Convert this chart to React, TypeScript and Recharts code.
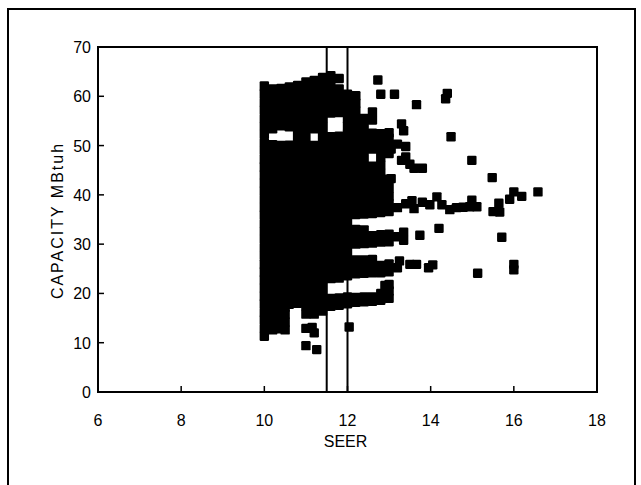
import React from "react";
import {
  ScatterChart,
  Scatter,
  XAxis,
  YAxis,
  ReferenceLine,
  ReferenceArea,
  Label,
} from "recharts";

const xTicks = [6, 8, 10, 12, 14, 16, 18];
const yTicks = [0, 10, 20, 30, 40, 50, 60, 70];
const limitLines = [11.5, 12];

// capacities (MBtuh) read at each SEER rating inside the dense block
const cap10_0 = [11.3, 12.9, 14.6, 16.2, 17.9, 19.5, 21.1, 22.8, 24.4, 26.0, 27.7, 29.3, 31.0, 32.6, 34.2, 35.9, 37.5, 39.1, 40.8, 42.4, 44.1, 45.7, 47.3, 49.0, 50.6, 52.3, 53.9, 55.5, 57.2, 58.8, 60.5, 62.1];
const cap10_2 = [12.6, 14.2, 15.9, 17.5, 19.1, 20.8, 22.4, 24.0, 25.7, 27.3, 28.9, 30.6, 32.2, 33.8, 35.5, 37.1, 38.7, 40.4, 42.0, 43.6, 45.3, 46.9, 48.5, 50.2, 53.4, 55.0, 56.6, 58.3, 59.9, 61.5];
const cap10_4 = [12.8, 14.4, 16.0, 17.7, 19.3, 20.9, 22.6, 24.2, 25.8, 27.5, 29.1, 30.7, 32.4, 34.0, 35.6, 37.3, 38.9, 40.5, 42.2, 43.8, 45.4, 47.1, 48.7, 50.0, 54.0, 55.5, 57.0, 58.5, 60.0, 61.6];
const cap10_5 = [12.6, 14.2, 15.8, 17.2];
const cap10_6 = [17.8, 19.4, 21.0, 22.7, 24.3, 25.9, 27.6, 29.2, 30.8, 32.5, 34.1, 35.7, 37.4, 39.0, 40.6, 42.3, 43.9, 45.5, 47.2, 48.8, 50.1, 53.8, 55.4, 57.0, 58.6, 60.3, 61.9];
const cap10_8 = [18.0, 19.6, 21.3, 22.9, 24.5, 26.2, 27.8, 29.4, 31.1, 32.7, 34.3, 36.0, 37.6, 39.2, 40.9, 42.5, 44.1, 45.8, 47.4, 49.0, 50.7, 52.3, 53.9, 55.6, 57.2, 58.8, 60.5, 62.2];
const cap11_0 = [15.8, 17.4, 19.1, 20.7, 22.3, 24.0, 25.6, 27.2, 28.9, 30.5, 32.1, 33.8, 35.4, 37.0, 38.7, 40.3, 41.9, 43.6, 45.2, 46.8, 48.5, 50.1, 51.7, 53.4, 55.0, 56.6, 58.3, 59.9, 61.5, 62.9];
const cap11_2 = [15.8, 17.5, 19.1, 20.7, 22.4, 24.0, 25.6, 27.3, 28.9, 30.5, 32.2, 33.8, 35.4, 37.1, 38.7, 40.3, 42.0, 43.6, 45.2, 46.9, 48.5, 50.0, 53.4, 55.0, 56.6, 58.3, 60.0, 61.7, 63.2];
const cap11_4 = [16.4, 18.0, 19.7, 21.3, 22.9, 24.6, 26.2, 27.8, 29.5, 31.1, 32.7, 34.4, 36.0, 37.6, 39.3, 40.9, 42.5, 44.2, 45.8, 47.4, 49.1, 50.7, 52.3, 54.0, 55.6, 57.2, 58.9, 60.5, 62.1, 63.8];
const cap11_6 = [17.4, 19.0, 23.0, 24.6, 26.2, 27.8, 29.4, 31.0, 32.6, 34.2, 35.8, 37.4, 39.0, 40.6, 42.2, 43.8, 45.4, 47.0, 48.6, 50.2, 51.8, 56.6, 58.2, 59.8, 61.4, 63.0, 64.2];
const cap11_8 = [17.6, 19.1, 23.1, 24.7, 26.3, 27.9, 29.5, 31.1, 32.7, 34.3, 35.9, 37.5, 39.1, 40.7, 42.3, 43.9, 45.5, 47.1, 48.7, 50.3, 51.9, 56.7, 58.3, 59.9, 61.5, 63.6];
const cap12_0 = [17.9, 19.3, 23.6, 25.2, 26.8, 28.4, 30.0, 31.6, 33.2, 34.8, 36.4, 38.0, 39.6, 41.2, 42.8, 44.4, 46.0, 47.6, 49.2, 50.8, 52.4, 54.0, 55.6, 57.2, 58.8, 60.4];
const cap12_2 = [18.2, 19.2, 24.0, 25.5, 26.8, 30.0, 31.6, 33.0, 36.0, 37.6, 39.2, 40.8, 42.4, 44.1, 45.7, 47.3, 48.9, 50.6, 52.2, 53.8, 55.4, 57.0, 58.6, 60.1];
const cap12_4 = [18.3, 19.3, 24.1, 25.6, 26.8, 30.1, 31.6, 32.9, 36.1, 37.7, 39.3, 40.9, 42.5, 44.2, 45.8, 47.4, 49.1, 50.7, 52.3, 53.9, 55.5];
const cap12_6 = [18.4, 19.3, 24.2, 25.7, 26.9, 30.2, 31.7, 36.2, 37.8, 39.4, 41.0, 42.6, 44.2, 45.8, 49.3, 50.9, 52.5, 55.2, 56.8];
const cap12_8 = [18.6, 20.0, 24.2, 25.7, 30.4, 31.9, 36.4, 38.0, 39.6, 41.2, 42.8, 44.4, 46.0, 47.6, 49.2, 50.8, 52.4];
const cap13_0 = [19.0, 20.5, 21.8, 24.4, 26.0, 30.5, 32.0, 36.6, 38.2, 39.8, 41.5, 43.2, 48.4, 49.9, 51.5, 52.6];

const denseColumns: [number, number[]][] = [
  [10.0, cap10_0],
  [10.2, cap10_2],
  [10.4, cap10_4],
  [10.5, cap10_5],
  [10.6, cap10_6],
  [10.8, cap10_8],
  [11.0, cap11_0],
  [11.2, cap11_2],
  [11.4, cap11_4],
  [11.6, cap11_6],
  [11.8, cap11_8],
  [12.0, cap12_0],
  [12.2, cap12_2],
  [12.4, cap12_4],
  [12.6, cap12_6],
  [12.8, cap12_8],
  [13.0, cap13_0],
];

// units outside the dense block: [SEER, capacity]
const scattered: [number, number][] = [
  [11.0, 9.4], [11.26, 8.6], [11.0, 12.9], [11.2, 12.0], [11.15, 13.1], [12.04, 13.2],
  [12.9, 21.6], [13.2, 25.2], [13.25, 26.6], [13.5, 25.9], [13.66, 25.9], [13.95, 25.2],
  [14.05, 25.8], [13.2, 31.5], [13.35, 32.4], [13.35, 30.8], [13.74, 31.8], [14.2, 33.2],
  [13.2, 37.4], [13.4, 38.2], [13.55, 38.8], [13.6, 37.2], [13.8, 38.5], [13.98, 38.0],
  [14.15, 39.6], [14.27, 38.0], [14.46, 37.0], [14.62, 37.4], [14.78, 37.5], [14.94, 37.6],
  [14.99, 38.9], [15.11, 37.6], [13.05, 43.3], [13.6, 45.4], [13.8, 45.4], [13.5, 46.2],
  [13.3, 47.0], [13.4, 47.7], [13.4, 49.8], [13.2, 50.3], [13.05, 49.3], [13.35, 53.0],
  [13.3, 54.4], [12.73, 63.3], [12.8, 60.4], [13.13, 60.4], [13.66, 58.3], [14.4, 60.6],
  [14.36, 59.5], [14.49, 51.8], [14.99, 47.0], [15.48, 43.5], [16.0, 40.6], [16.19, 39.7],
  [15.9, 39.1], [16.58, 40.6], [15.64, 38.3], [15.5, 36.6], [15.66, 36.5], [15.71, 31.4],
  [16.0, 25.9], [16.0, 24.8], [15.13, 24.1],
];

const points = [
  ...denseColumns.flatMap(([seer, caps]) => caps.map((cap) => ({ seer, cap }))),
  ...scattered.map(([seer, cap]) => ({ seer, cap })),
];

const font = "'Liberation Sans', Arial, Helvetica, sans-serif";

const Square = (props: any) => {
  const { cx, cy } = props;
  if (cx == null || cy == null) return null;
  return <rect x={cx - 4.7} y={cy - 4.7} width={9.4} height={9.4} rx={1.2} fill="#000" />;
};

const XTick = (props: any) => {
  const { x, y, payload } = props;
  const v = payload.value;
  return (
    <g>
      {v > 6 && v < 18 && (
        <line x1={x} y1={y} x2={x} y2={y - 6} stroke="#000" strokeWidth={1.5} />
      )}
      <text x={x} y={y + 34} textAnchor="middle" fontSize={16} fontFamily={font} fill="#000">
        {v}
      </text>
    </g>
  );
};

const YTick = (props: any) => {
  const { x, y, payload } = props;
  const v = payload.value;
  return (
    <g>
      {v > 0 && v < 70 && (
        <line x1={x} y1={y} x2={x + 6} y2={y} stroke="#000" strokeWidth={1.5} />
      )}
      <text x={x - 7} y={y + 6} textAnchor="end" fontSize={16} fontFamily={font} fill="#000">
        {v}
      </text>
    </g>
  );
};

const App = () => {
  return (
    <div style={{ position: "absolute", left: 0, top: 0, width: 641, height: 485, overflow: "hidden", background: "#fff" }}>
      <div
        style={{
          position: "absolute",
          left: 7,
          top: 8,
          width: 625,
          height: 520,
          border: "2px solid #000",
        }}
      />
      <div style={{ position: "absolute", left: 0, top: 0 }}>
        <ScatterChart
          width={641}
          height={485}
          margin={{ top: 47, right: 44, bottom: 43, left: 38 }}
        >
          <XAxis
            type="number"
            dataKey="seer"
            domain={[6, 18]}
            ticks={xTicks}
            interval={0}
            height={50}
            tickSize={0}
            tickMargin={0}
            tickLine={false}
            axisLine={{ stroke: "#000", strokeWidth: 2 }}
            tick={<XTick />}
          >
            <Label
              content={(p: any) => {
                const vb = p.viewBox;
                return (
                  <text
                    x={vb.x + vb.width / 2 - 2}
                    y={vb.y + 55}
                    textAnchor="middle"
                    fontSize={16}
                    fontFamily={font}
                    fill="#000"
                  >
                    SEER
                  </text>
                );
              }}
            />
          </XAxis>
          <YAxis
            type="number"
            dataKey="cap"
            domain={[0, 70]}
            ticks={yTicks}
            interval={0}
            width={60}
            tickSize={0}
            tickMargin={0}
            tickLine={false}
            axisLine={{ stroke: "#000", strokeWidth: 2 }}
            tick={<YTick />}
          >
            <Label
              content={(p: any) => {
                const vb = p.viewBox;
                const cx = vb.x + 19;
                const cy = vb.y + vb.height / 2 + 1;
                return (
                  <text
                    x={cx}
                    y={cy}
                    transform={`rotate(-90, ${cx}, ${cy})`}
                    textAnchor="middle"
                    dominantBaseline="central"
                    fontSize={16}
                    letterSpacing={2}
                    fontFamily={font}
                    fill="#000"
                  >
                    CAPACITY MBtuh
                  </text>
                );
              }}
            />
          </YAxis>
          <ReferenceArea
            x1={6}
            x2={18}
            y1={0}
            y2={70}
            fill="none"
            stroke="#000"
            strokeWidth={2}
          />
          <Scatter
            data={points}
            shape={<Square />}
            fill="#000"
            isAnimationActive={false}
          />
          {limitLines.map((v) => (
            <ReferenceLine key={v} x={v} stroke="#000" strokeWidth={2} />
          ))}
        </ScatterChart>
      </div>
    </div>
  );
};

export default App;
